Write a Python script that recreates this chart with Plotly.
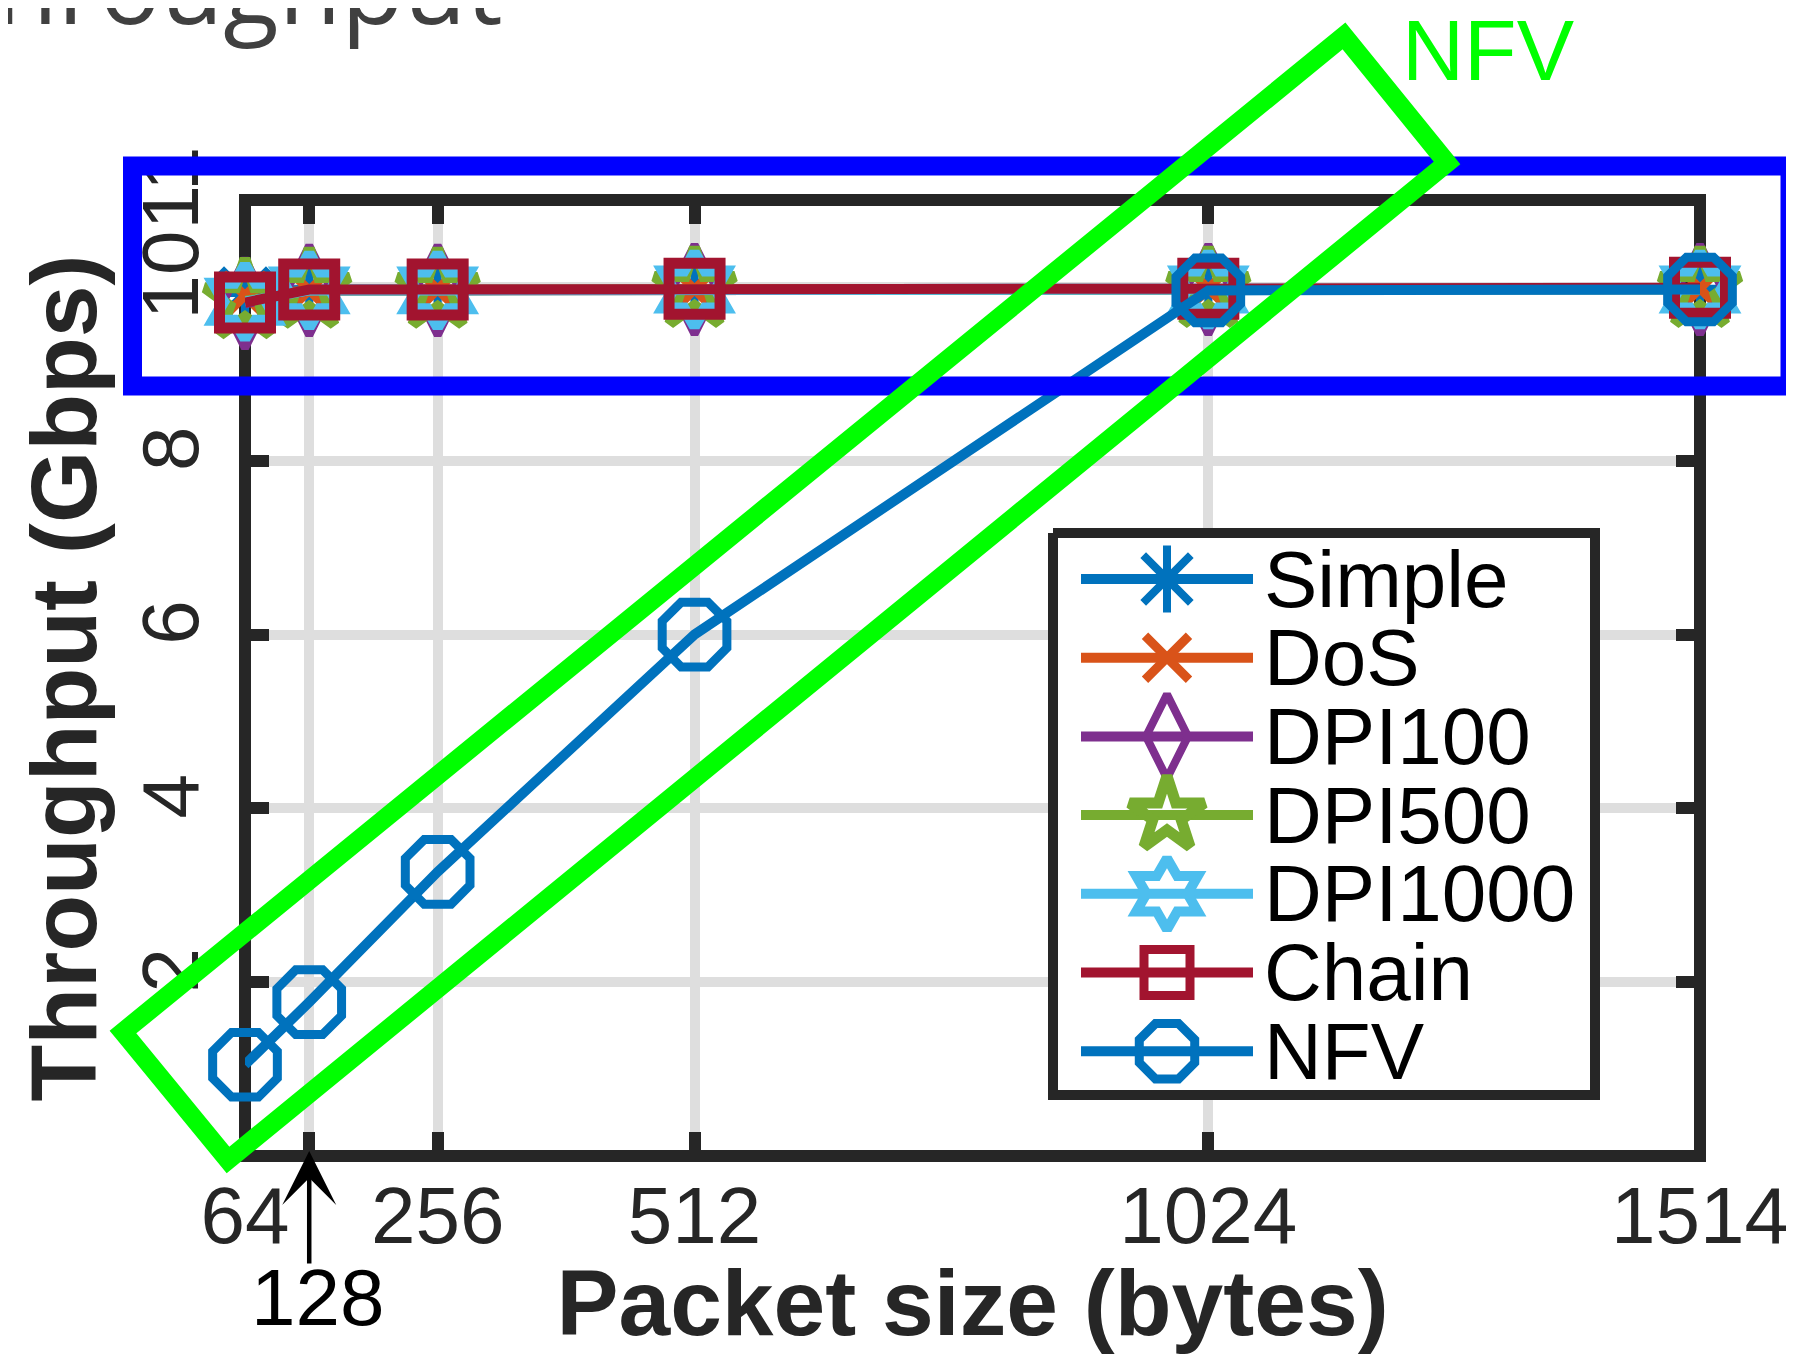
import plotly.graph_objects as go

# ---------------- data ----------------
packet_sizes = [64, 128, 256, 512, 1024, 1514]
simple = [9.93, 9.97, 9.97, 9.98, 9.98, 9.98]
dos = [9.90, 9.96, 9.97, 9.97, 9.98, 9.98]
dpi100 = [9.81, 9.96, 9.96, 9.97, 9.97, 9.97]
dpi500 = [9.84, 9.96, 9.96, 9.97, 9.97, 9.97]
dpi1000 = [9.83, 9.96, 9.96, 9.97, 9.97, 9.97]
chain = [9.82, 9.97, 9.97, 9.98, 9.98, 9.99]
nfv = [1.05, 1.77, 3.27, 6.00, 9.96, 9.97]
series_names = ["Simple", "DoS", "DPI100", "DPI500", "DPI1000", "Chain", "NFV"]
series_values = [simple, dos, dpi100, dpi500, dpi1000, chain, nfv]

x_tick_vals = [64, 128, 256, 512, 1024, 1514]
x_tick_text = ["64", "", "256", "512", "1024", "1514"]
y_tick_vals = [2, 4, 6, 8, 10, 11]
y_tick_text = ["2", "4", "6", "8", "10", "11"]
x_range = [64, 1514]
y_range = [0, 11]

# ---------------- styles ----------------
colors = ["#0072BD", "#D95319", "#7E2F8E", "#77AC30", "#4DBEEE", "#A2142F", "#0072BD"]
symbols = ["asterisk-open", "x-thin-open", "diamond-tall-open", "star-open",
           "hexagram-open", "square-open", "octagon-open"]
plot_msize = [56, 44, 64, 60, 56, 51, 70]
plot_mlw = [8, 9, 8, 11, 11, 11, 9]
leg_msize = [56, 44, 60, 56, 54, 46, 60]
leg_mlw = [8, 9, 8, 11, 10, 9, 9]

AX = "#262626"
FONT = "Liberation Sans, Arial, Helvetica, sans-serif"

# the page body has an 8px margin: work in page pixels, figure sits at (8, 8)
OFF = 8
W, H = 1786, 1347
L, R, T, B = 237, 94, 192, 199
PW, PH = W - L - R, H - T - B


def pxx(x):
    return (x - OFF - L) / PW


def pxy(y):
    return (H - B - (y - OFF)) / PH


fig = go.Figure()

# inner half of the axes frame (outer half is the axis line)
fig.add_trace(go.Scatter(
    x=[x_range[0], x_range[1], x_range[1], x_range[0], x_range[0]],
    y=[y_range[0], y_range[0], y_range[1], y_range[1], y_range[0]],
    mode="lines", line=dict(color=AX, width=12), cliponaxis=False,
    showlegend=False, hoverinfo="skip"))

for name, vals, c, s, ms, mlw in zip(series_names, series_values, colors, symbols,
                                     plot_msize, plot_mlw):
    fig.add_trace(go.Scatter(
        x=packet_sizes, y=vals, name=name, mode="lines+markers",
        line=dict(color=c, width=10),
        marker=dict(symbol=s, size=ms, color=c, line=dict(color=c, width=mlw)),
        cliponaxis=False, showlegend=False))

# ---------------- custom legend (pixel overlay axes) ----------------
leg_box = dict(x0=1053, x1=1595, y0=533, y1=1095)
fig.add_trace(go.Scatter(
    x=[leg_box["x0"], leg_box["x1"], leg_box["x1"], leg_box["x0"], leg_box["x0"]],
    y=[leg_box["y0"], leg_box["y0"], leg_box["y1"], leg_box["y1"], leg_box["y0"]],
    xaxis="x2", yaxis="y2", mode="lines", fill="toself", fillcolor="white",
    line=dict(color=AX, width=10), showlegend=False, hoverinfo="skip"))

row0, row_step = 579, 78.7
for i, (name, c, s, ms, mlw) in enumerate(zip(series_names, colors, symbols, leg_msize, leg_mlw)):
    yc = row0 + i * row_step
    fig.add_trace(go.Scatter(x=[1081, 1253], y=[yc, yc], xaxis="x2", yaxis="y2",
                             mode="lines", line=dict(color=c, width=10),
                             showlegend=False, hoverinfo="skip"))
    fig.add_trace(go.Scatter(x=[1167], y=[yc], xaxis="x2", yaxis="y2", mode="markers",
                             marker=dict(symbol=s, size=ms, color=c,
                                         line=dict(color=c, width=mlw)),
                             showlegend=False, hoverinfo="skip"))
    fig.add_annotation(text=name, x=pxx(1262), y=pxy(yc), xref="paper", yref="paper",
                       xanchor="left", yanchor="middle", showarrow=False,
                       font=dict(family=FONT, size=80, color="black"))

# ---------------- annotations ----------------
fig.add_annotation(text="Throughput", x=pxx(505), y=pxy(-15), xref="paper", yref="paper",
                   xanchor="right", yanchor="middle", showarrow=False,
                   font=dict(family="Open Sans, sans-serif", size=102, color="#404040"))
fig.add_annotation(text="NFV", x=pxx(1400), y=pxy(50), xref="paper", yref="paper",
                   xanchor="left", yanchor="middle", showarrow=False,
                   font=dict(family="Liberation Sans Narrow, Arial Narrow, Liberation Sans",
                             size=86, color="#00FF00"))
fig.add_annotation(text="128", x=pxx(317), y=pxy(1297), xref="paper", yref="paper",
                   xanchor="center", yanchor="middle", showarrow=False,
                   font=dict(family=FONT, size=80, color="black"))
fig.add_annotation(text="", x=128, xref="x", y=pxy(1151), yref="paper",
                   ax=0, ay=114, showarrow=True, arrowhead=3, arrowwidth=4.5,
                   arrowsize=2.0, arrowcolor="black", font=dict(size=1))

# blue highlight box
fig.add_shape(type="rect", xref="paper", yref="paper",
              x0=pxx(132.5), x1=pxx(1790), y0=pxy(386), y1=pxy(166),
              line=dict(color="#0000FF", width=19), fillcolor="rgba(0,0,0,0)", layer="above")
# green rotated highlight box
g_pts = [(123, 1032), (228, 1160), (1447, 163), (1344, 36)]
g_path = "M " + " L ".join(f"{pxx(a):.5f},{pxy(b):.5f}" for a, b in g_pts) + " Z"
fig.add_shape(type="path", xref="paper", yref="paper", path=g_path,
              line=dict(color="#00FF00", width=19), fillcolor="rgba(0,0,0,0)", layer="above")

fig.update_layout(
    width=W, height=H,
    margin=dict(l=L, r=R, t=T, b=B, pad=0, autoexpand=False),
    paper_bgcolor="white", plot_bgcolor="white",
    showlegend=False,
    xaxis=dict(range=x_range, tickvals=x_tick_vals, ticktext=x_tick_text,
               ticks="inside", ticklen=24, tickwidth=12, tickcolor=AX, mirror="ticks",
               showline=True, linewidth=6, linecolor=AX,
               showgrid=True, gridcolor="#DEDEDE", gridwidth=10,
               zeroline=False, layer="below traces", automargin=False,
               ticklabelstandoff=-15,
               tickfont=dict(family=FONT, size=80, color=AX),
               title=dict(text="Packet size (bytes)", standoff=15,
                          font=dict(family=FONT, size=93, color=AX, weight="bold"))),
    yaxis=dict(range=y_range, tickvals=y_tick_vals, ticktext=y_tick_text,
               ticks="inside", ticklen=24, tickwidth=12, tickcolor=AX, mirror="ticks",
               showline=True, linewidth=6, linecolor=AX,
               showgrid=True, gridcolor="#DEDEDE", gridwidth=10,
               zeroline=False, layer="below traces", automargin=False, tickangle=-90,
               ticklabelstandoff=9,
               tickfont=dict(family=FONT, size=80, color=AX),
               title=dict(text="Throughput (Gbps)", standoff=0,
                          font=dict(family=FONT, size=93, color=AX, weight="bold"))),
    xaxis2=dict(overlaying="x", anchor="y2", range=[L + OFF, L + OFF + PW], visible=False,
                automargin=False),
    yaxis2=dict(overlaying="y", anchor="x2", range=[T + OFF + PH, T + OFF], visible=False,
                automargin=False),
)

fig.write_html("out.html")
